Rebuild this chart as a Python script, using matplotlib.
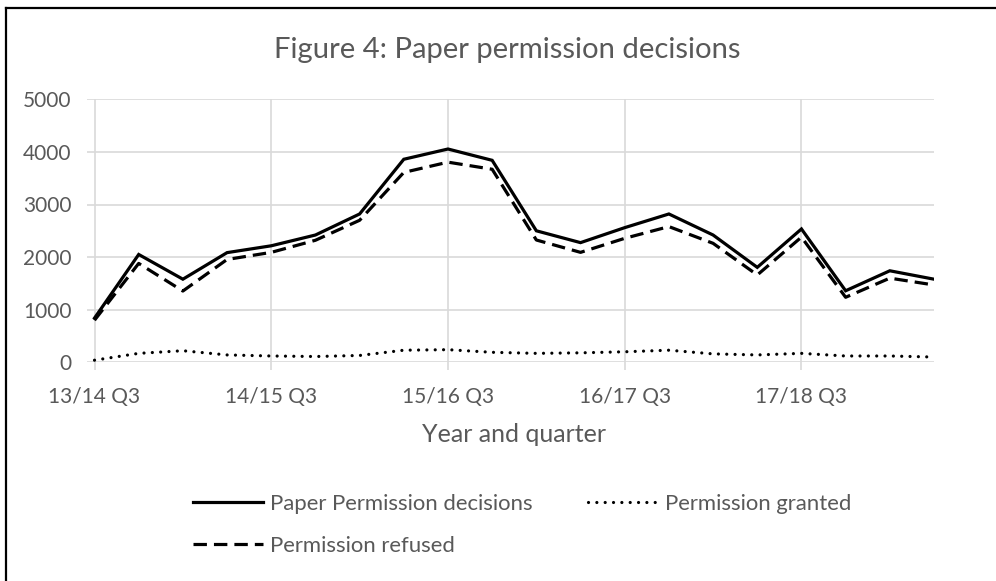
import matplotlib
matplotlib.use("Agg")
import matplotlib.pyplot as plt
from matplotlib.lines import Line2D

quarters = ["13/14 Q3", "13/14 Q4", "14/15 Q1", "14/15 Q2",
            "14/15 Q3", "14/15 Q4", "15/16 Q1", "15/16 Q2",
            "15/16 Q3", "15/16 Q4", "16/17 Q1", "16/17 Q2",
            "16/17 Q3", "16/17 Q4", "17/18 Q1", "17/18 Q2",
            "17/18 Q3", "17/18 Q4", "18/19 Q1", "18/19 Q2"]
total = [840, 2050, 1580, 2085, 2215, 2420, 2820, 3860, 4055, 3840,
         2500, 2275, 2560, 2820, 2420, 1805, 2535, 1360, 1740, 1580]
granted = [40, 170, 220, 140, 120, 110, 130, 230, 240, 190,
           170, 180, 200, 230, 160, 140, 170, 120, 120, 100]
refused = [800, 1880, 1355, 1955, 2090, 2320, 2700, 3610, 3805, 3670,
           2325, 2090, 2357, 2580, 2262, 1660, 2380, 1236, 1600, 1470]
yticks = [0, 1000, 2000, 3000, 4000, 5000]

plt.rcParams['font.family'] = ['Lato', 'DejaVu Sans']
TXT = '#595959'
GRID = '#D9D9D9'

W, H = 996, 581
fig = plt.figure(figsize=(W / 100, H / 100), dpi=100)
ax = fig.add_axes([87 / W, 1 - 362.3 / H, (934 - 87) / W, (362.3 - 99.3) / H])

x = list(range(len(quarters)))
l1, = ax.plot(x, total, color='black', lw=2.3, solid_joinstyle='miter',
              label='Paper Permission decisions')
l2, = ax.plot(x, granted, color='black', lw=2.3, linestyle=(0, (0.01, 2.6)),
              dash_capstyle='round', label='Permission granted')
l3, = ax.plot(x, refused, color='black', lw=2.3, linestyle=(0, (4.2, 2.2)),
              label='Permission refused')

ax.set_xlim(-0.17, len(quarters) - 1)
ax.set_ylim(0, 5000)
ax.set_yticks(yticks)
ax.set_yticklabels([str(v) for v in yticks])
xt = x[::4]
ax.set_xticks(xt)
ax.set_xticklabels([quarters[i] for i in xt])
ax.grid(True, color=GRID, lw=1.2)
ax.set_axisbelow(True)
for s in ax.spines.values():
    s.set_visible(False)
ax.tick_params(axis='y', length=0, pad=11, labelsize=15, labelcolor=TXT)
ax.tick_params(axis='x', length=6, width=1.2, color=GRID, pad=12,
               labelsize=15, labelcolor=TXT)

fig.text(514 / W, 1 - 442 / H, 'Year and quarter', ha='center', va='baseline',
         fontsize=18, color=TXT)

fig.text(507 / W, 1 - 58 / H, 'Figure 4: Paper permission decisions',
         ha='center', va='baseline', fontsize=21.1, color=TXT)

fs_leg = 15.9
leg = fig.legend(handles=[l1, l3, l2], ncol=2, frameon=False,
                 loc='upper left', bbox_to_anchor=(193 / W, 1 - 494 / H),
                 borderpad=0, borderaxespad=0,
                 fontsize=fs_leg, labelcolor=TXT, handlelength=3.17,
                 handletextpad=0.32, columnspacing=2.5, labelspacing=0.98)

# chart border (top and left)
fig.add_artist(Line2D([6 / W, 6 / W], [0, 1 - 8 / H], transform=fig.transFigure,
                      color='black', lw=1.6))
fig.add_artist(Line2D([6 / W, 1], [1 - 8 / H, 1 - 8 / H], transform=fig.transFigure,
                      color='black', lw=1.6))

fig.savefig('out.png', dpi=100)
